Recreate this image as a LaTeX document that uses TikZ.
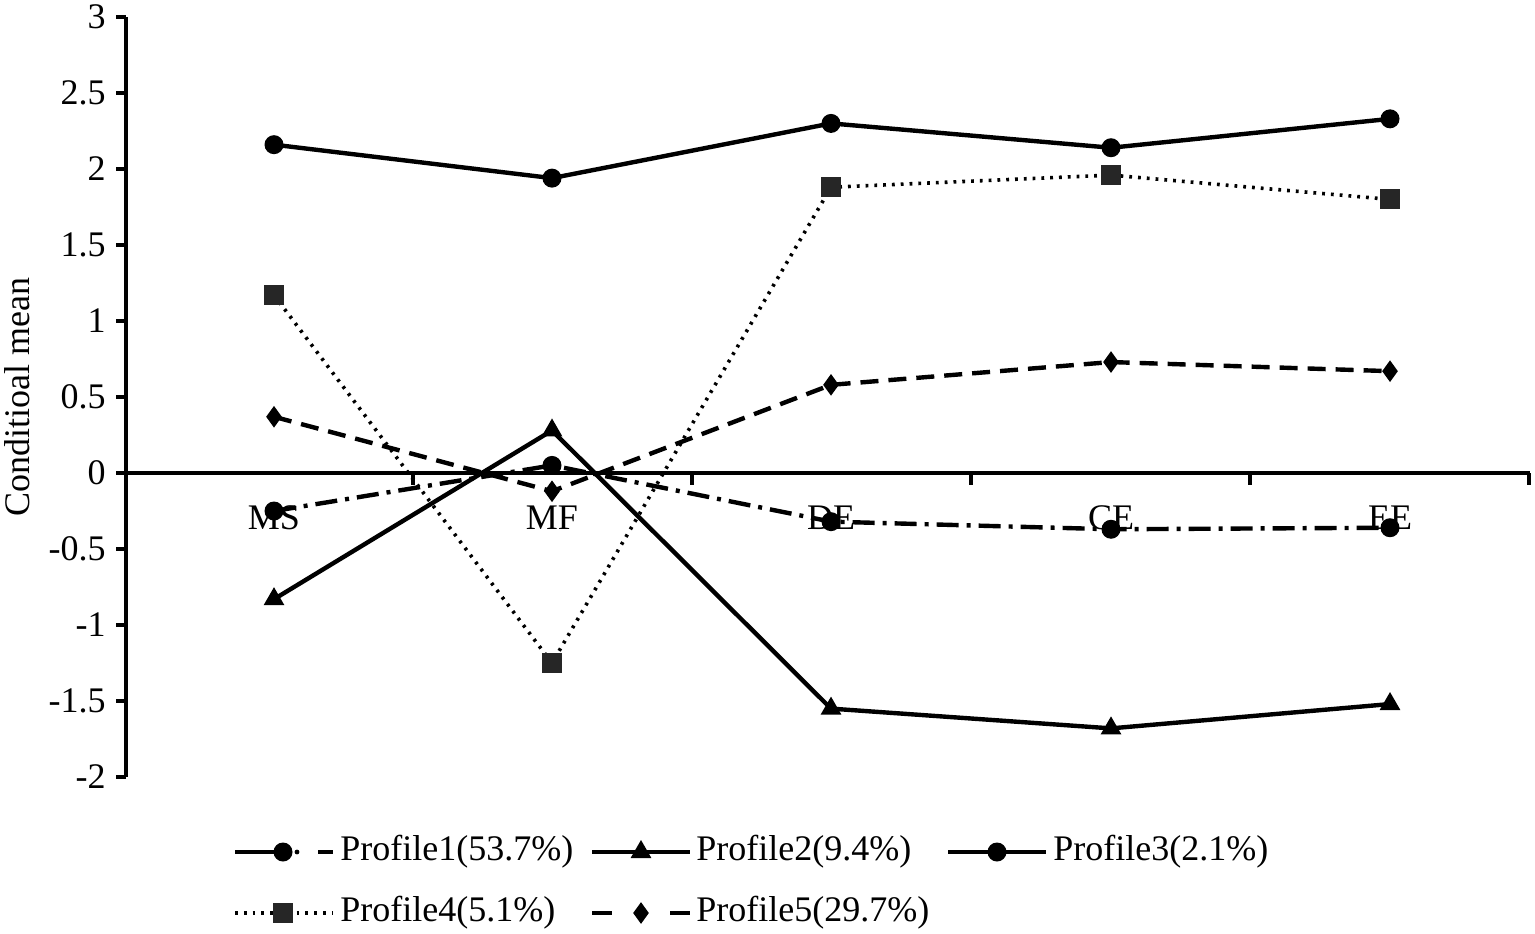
\documentclass[tikz,border=0pt]{standalone}
\usepackage{fontspec}
\setmainfont{Liberation Serif}
\usetikzlibrary{shapes.geometric}
\begin{document}
\begin{tikzpicture}[x=0.5pt,y=0.5pt,
  lbl/.style={font=\fontsize{18}{18}\selectfont,inner sep=0pt},
  circ/.style={circle,fill=black,minimum size=9.5pt,inner sep=0pt},
  tri/.style={regular polygon,regular polygon sides=3,fill=black,minimum size=12pt,inner sep=0pt},
  sq/.style={rectangle,fill=black!85,minimum size=10pt,inner sep=0pt},
  dia/.style={diamond,fill=black,minimum width=8pt,minimum height=11pt,inner sep=0pt},
  ln/.style={line width=2.2pt},
  dd/.style={ln,dash pattern=on 11pt off 4pt on 2pt off 4pt},
  dot/.style={line width=1.8pt,dash pattern=on 1.4pt off 3pt},
  dsh/.style={ln,dash pattern=on 9pt off 5pt}]
\useasboundingbox (0,0) rectangle (1535,-933);
\newcommand\mydp[3]{\coordinate (#1) at (#2,{-473+152*#3});}
% axes
\draw[line width=1.6pt] (126,-17) -- (126,-777);
\foreach \v/\t in {3/3,2.5/2.5,2/2,1.5/1.5,1/1,0.5/0.5,0/0,-0.5/-0.5,-1/-1,-1.5/-1.5,-2/-2}{
  \draw[line width=1.6pt] (116,{-473+152*\v}) -- (126,{-473+152*\v});
  \node[lbl,anchor=east] at (106,{-473+152*\v}) {\t};
}
\draw[line width=2pt] (126,-473) -- (1530,-473);
\foreach \x in {413,692,971,1250,1529}{\draw[line width=1.6pt] (\x,-473) -- (\x,-485);}
\node[lbl,rotate=90] at (17,-397) {Conditioal mean};
\foreach \x/\t in {274/MS,552/MF,831/DE,1111/CE,1390/EE}{\node[lbl] at (\x,-518) {\t};}
% data
\mydp{a1}{274}{-0.25}\mydp{a2}{552}{0.05}\mydp{a3}{831}{-0.32}\mydp{a4}{1111}{-0.37}\mydp{a5}{1390}{-0.36}
\mydp{b1}{274}{-0.83}\mydp{b2}{552}{0.28}\mydp{b3}{831}{-1.55}\mydp{b4}{1111}{-1.68}\mydp{b5}{1390}{-1.52}
\mydp{c1}{274}{2.16}\mydp{c2}{552}{1.94}\mydp{c3}{831}{2.30}\mydp{c4}{1111}{2.14}\mydp{c5}{1390}{2.33}
\mydp{d1}{274}{1.17}\mydp{d2}{552}{-1.25}\mydp{d3}{831}{1.88}\mydp{d4}{1111}{1.96}\mydp{d5}{1390}{1.80}
\mydp{e1}{274}{0.37}\mydp{e2}{552}{-0.12}\mydp{e3}{831}{0.58}\mydp{e4}{1111}{0.73}\mydp{e5}{1390}{0.67}
\draw[dd] (a1)--(a2)--(a3)--(a4)--(a5);
\draw[ln] (b1)--(b2)--(b3)--(b4)--(b5);
\draw[ln] (c1)--(c2)--(c3)--(c4)--(c5);
\draw[dot] (d1)--(d2)--(d3)--(d4)--(d5);
\draw[dsh] (e1)--(e2)--(e3)--(e4)--(e5);
\foreach \i in {1,...,5}{
  \node[circ] at (a\i) {};
  \node[tri] at (b\i) {};
  \node[circ] at (c\i) {};
  \node[sq] at (d\i) {};
  \node[dia] at (e\i) {};
}
% legend
\coordinate (l1a) at (235,-852); \coordinate (l1b) at (333,-852);
\draw[ln] (l1a) -- (283,-852); \draw[ln] (318,-852) -- (l1b);
\node[circ] at (283,-852) {}; \fill (297,-852) circle (1.2pt);
\node[lbl,anchor=west] at (340,-852) {Profile1(53.7\%)};
\coordinate (l2a) at (592,-852); \coordinate (l2b) at (690,-852);
\draw[ln] (l2a) -- (l2b); \node[tri] at (641,-852) {};
\node[lbl,anchor=west] at (696,-852) {Profile2(9.4\%)};
\coordinate (l3a) at (948,-852); \coordinate (l3b) at (1046,-852);
\draw[ln] (l3a) -- (l3b); \node[circ] at (997,-852) {};
\node[lbl,anchor=west] at (1053,-852) {Profile3(2.1\%)};
\coordinate (l4a) at (235,-913); \coordinate (l4b) at (333,-913);
\draw[dot] (l4a) -- (l4b); \node[sq] at (283,-913) {};
\node[lbl,anchor=west] at (340,-913) {Profile4(5.1\%)};
\coordinate (l5a) at (592,-913); \coordinate (l5b) at (690,-913);
\draw[ln] (l5a) -- (612,-913); \draw[ln] (670,-913) -- (l5b); \node[dia] at (641,-913) {};
\node[lbl,anchor=west] at (696,-913) {Profile5(29.7\%)};
\end{tikzpicture}
\end{document}
